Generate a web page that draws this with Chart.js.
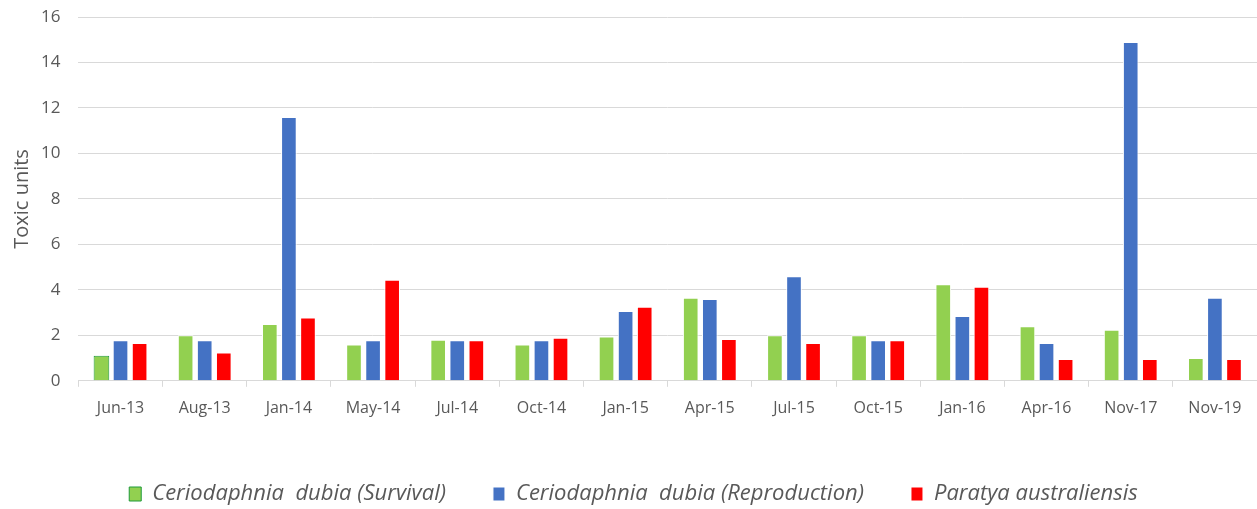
<!DOCTYPE html>
<html>
<head>
<meta charset="utf-8">
<script src="https://cdn.jsdelivr.net/npm/chart.js@4"></script>
<style>
  html, body { margin: 0; padding: 0; background: #fff; }
  #wrap { width: 1257px; height: 509px; position: relative; }
</style>
</head>
<body>
<div id="wrap"><canvas id="myChart"></canvas></div>
<script>
var dates = ['Jun-13', 'Aug-13', 'Jan-14', 'May-14', 'Jul-14', 'Oct-14', 'Jan-15',
  'Apr-15', 'Jul-15', 'Oct-15', 'Jan-16', 'Apr-16', 'Nov-17', 'Nov-19']
var survival = [1.1, 2.0, 2.5, 1.6, 1.8, 1.6, 1.95, 3.65, 2.0, 2.0, 4.25, 2.4, 2.25, 1.0]
var reproduction = [1.78, 1.78, 11.6, 1.78, 1.78, 1.78, 3.07, 3.6, 4.6, 1.78, 2.85, 1.66, 14.9, 3.65]
var paratya = [1.66, 1.25, 2.78, 4.44, 1.78, 1.89, 3.26, 1.84, 1.66, 1.78, 4.14, 0.96, 0.96, 0.96]
var yTicks = [0, 2, 4, 6, 8, 10, 12, 14, 16]

var textColor = '#595959'
var gridColor = '#d9d9d9'
var fontName = "'Open Sans', 'Noto Sans', sans-serif"

var survivalBorder = dates.map(function (d, i) { return i === 0 ? '#1f9a3a' : '#ffffff' })

var ctx = document.getElementById('myChart').getContext('2d')
var myChart = new Chart(ctx, {
  type: 'bar',
  data: {
    labels: dates,
    datasets: [
      {
        label: 'Ceriodaphnia  dubia (Survival)',
        backgroundColor: '#92d050',
        borderColor: survivalBorder,
        borderWidth: 1,
        data: survival,
      },
      {
        label: 'Ceriodaphnia  dubia (Reproduction)',
        backgroundColor: '#4472c4',
        borderColor: '#ffffff',
        borderWidth: 1,
        data: reproduction,
      },
      {
        label: 'Paratya australiensis',
        backgroundColor: '#ff0000',
        borderColor: '#ffffff',
        borderWidth: 1,
        data: paratya,
      },
    ],
  },
  options: {
    responsive: true,
    maintainAspectRatio: false,
    animation: { duration: 0 },
    layout: { padding: { top: 17, right: 0, left: 10, bottom: -6 } },
    datasets: {
      bar: { categoryPercentage: 0.68, barPercentage: 0.82 },
    },
    scales: {
      x: {
        grid: {
          offset: true,
          drawOnChartArea: false,
          color: gridColor,
          tickLength: 6,
        },
        border: { color: gridColor },
        ticks: {
          color: textColor,
          font: { family: fontName, size: 16 },
          padding: 12,
          maxRotation: 0,
        },
        afterFit: function (scale) { scale.height += 6 },
      },
      y: {
        min: 0,
        max: 16,
        afterBuildTicks: function (scale) {
          scale.ticks = yTicks.map(function (v) { return { value: v } })
        },
        afterFit: function (scale) {
          scale.width -= 15
          scale.paddingTop = 0
        },
        grid: { color: gridColor, drawTicks: false },
        border: { display: false },
        ticks: {
          color: textColor,
          font: { family: fontName, size: 17 },
          padding: 18,
        },
        title: {
          display: true,
          text: 'Toxic units',
          color: textColor,
          font: { family: fontName, size: 20 },
          padding: { top: 0, bottom: 4 },
        },
      },
    },
    plugins: {
      legend: {
        position: 'bottom',
        labels: {
          color: textColor,
          boxWidth: 12,
          boxHeight: 14,
          padding: 47,
          font: { family: fontName, size: 22, style: 'italic' },
        },
      },
      tooltip: { enabled: false },
    },
  },
})
</script>
</body>
</html>
